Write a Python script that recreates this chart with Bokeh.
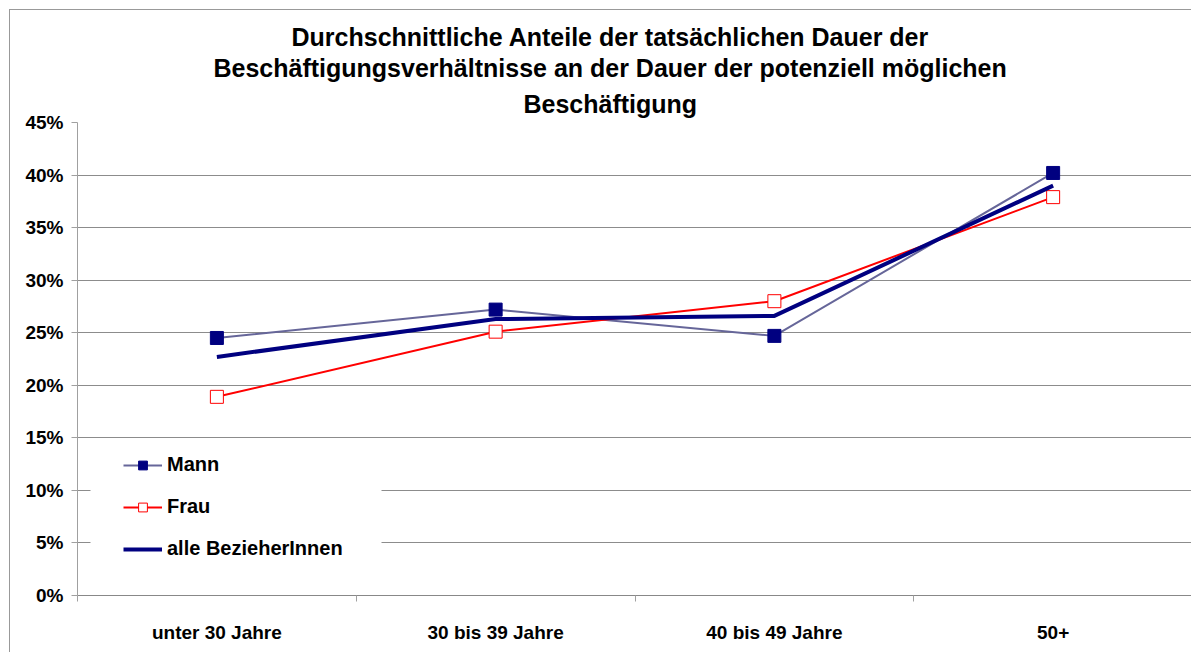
from bokeh.plotting import figure
from bokeh.models import (ColumnDataSource, FixedTicker, Range1d, Legend, LegendItem,
                          NumeralTickFormatter, Title, BoxAnnotation)
from bokeh.embed import file_html
from bokeh.resources import INLINE

categories = ["unter 30 Jahre", "30 bis 39 Jahre", "40 bis 49 Jahre", "50+"]
mann = [0.245, 0.272, 0.247, 0.402]
frau = [0.189, 0.251, 0.280, 0.379]
alle = [0.227, 0.263, 0.266, 0.390]
y_ticks = [0.0, 0.05, 0.10, 0.15, 0.20, 0.25, 0.30, 0.35, 0.40, 0.45]
title_lines = ["Durchschnittliche Anteile der tatsächlichen Dauer der",
               "Beschäftigungsverhältnisse an der Dauer der potenziell möglichen",
               "Beschäftigung"]
title_offsets = [214, 136, 446]

FONT = "Liberation Sans"
xs = [i + 0.5 for i in range(len(categories))]
src = ColumnDataSource(dict(x=xs, mann=mann, frau=frau, alle=alle))

p = figure(width=1182, height=643, output_backend="svg", toolbar_location=None,
           x_range=Range1d(0, len(categories)), y_range=Range1d(0, 0.45),
           min_border_left=67, min_border_right=0, min_border_top=112, min_border_bottom=58)
p.styles = {"margin-left": "9px", "margin-top": "9px",
            "border-left": "1px solid #999999", "border-top": "1px solid #999999"}
p.outline_line_color = None
p.background_fill_color = "white"

for i in reversed(range(len(title_lines))):
    p.add_layout(Title(text=title_lines[i], align="left", offset=title_offsets[i],
                       text_font=FONT, text_font_size="25px", text_font_style="bold",
                       text_color="black", standoff=(10 if i == 2 else 1)), "above")

# y axis
p.yaxis.ticker = FixedTicker(ticks=y_ticks)
p.yaxis.formatter = NumeralTickFormatter(format="0%")
p.yaxis.major_label_text_font = FONT
p.yaxis.major_label_text_font_size = "19px"
p.yaxis.major_label_text_font_style = "bold"
p.yaxis.major_label_text_color = "black"
p.yaxis.axis_line_color = "#a0a0a0"
p.yaxis.major_tick_line_color = "#a0a0a0"
p.yaxis.major_tick_out = 6
p.yaxis.major_tick_in = 0
p.yaxis.minor_tick_line_color = None
p.yaxis.major_label_standoff = 8

# x axis: labels at centers, ticks at boundaries
p.xaxis.ticker = FixedTicker(ticks=xs, minor_ticks=list(range(len(categories) + 1)))
p.xaxis.major_label_overrides = {x: c for x, c in zip(xs, categories)}
p.xaxis.major_label_text_font = FONT
p.xaxis.major_label_text_font_size = "19px"
p.xaxis.major_label_text_font_style = "bold"
p.xaxis.major_label_text_color = "black"
p.xaxis.axis_line_color = "#888888"
p.xaxis.major_tick_line_color = None
p.xaxis.minor_tick_line_color = "#a0a0a0"
p.xaxis.minor_tick_out = 6
p.xaxis.minor_tick_in = 0
p.xaxis.major_label_standoff = 20

p.xgrid.grid_line_color = None
p.ygrid.ticker = FixedTicker(ticks=y_ticks)
p.ygrid.grid_line_color = "#8c8c8c"
p.ygrid.grid_line_width = 1

# series
r_m_line = p.line("x", "mann", source=src, line_color="#666699", line_width=2)
r_m_pts = p.scatter("x", "mann", source=src, marker="square", size=13,
                    fill_color="#000080", line_color="#000080")
r_f_line = p.line("x", "frau", source=src, line_color="#ff0000", line_width=2)
r_f_pts = p.scatter("x", "frau", source=src, marker="square", size=13,
                    fill_color="white", line_color="#ff0000", line_width=1)
r_a_line = p.line("x", "alle", source=src, line_color="#000080", line_width=4)

# white legend backdrop
p.add_layout(BoxAnnotation(left=13, right=304, bottom=20, top=150,
                           left_units="screen", right_units="screen",
                           bottom_units="screen", top_units="screen",
                           fill_color="white", fill_alpha=1.0, line_color=None))

legend = Legend(items=[
    LegendItem(label="Mann", renderers=[r_m_line, r_m_pts]),
    LegendItem(label="Frau", renderers=[r_f_line, r_f_pts]),
    LegendItem(label="alle BezieherInnen", renderers=[r_a_line]),
], location=(46, 35))
legend.label_text_font = FONT
legend.label_text_font_size = "20px"
legend.label_text_font_style = "bold"
legend.label_text_color = "black"
legend.border_line_color = None
legend.background_fill_color = "white"
legend.background_fill_alpha = 1.0
legend.glyph_width = 39
legend.glyph_height = 22
legend.label_height = 22
legend.label_width = 213
legend.spacing = 19
legend.padding = 0
legend.margin = 0
legend.label_standoff = 5
p.add_layout(legend)

open("out.html", "w").write(file_html(p, INLINE))
